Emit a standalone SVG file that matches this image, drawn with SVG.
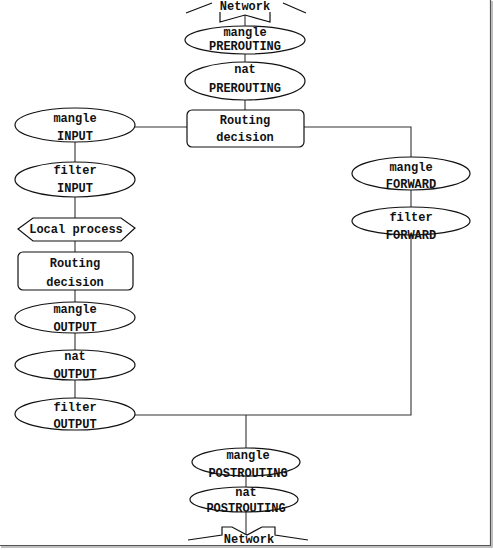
<svg xmlns="http://www.w3.org/2000/svg" width="493" height="550" viewBox="0 0 493 550">
<style>
.n{fill:#fff;stroke:#111;stroke-width:1.2}
.c{fill:none;stroke:#333;stroke-width:1.1}
text{font-family:"Liberation Mono","DejaVu Sans Mono",monospace;font-weight:bold;font-size:12px;fill:#111;text-anchor:middle}
</style>
<rect width="493" height="550" fill="#fff"/>
<g id="connectors">
<path class="c" d="M245,15V26M245,54V62M245,100V110"/>
<path class="c" d="M135,127H187M304,127H411V157M411,190V207M411,235V415H135"/>
<path class="c" d="M75,142V162M75,197V218M75,241V252M75,290V302M75,333V350M75,380V398"/>
<path class="c" d="M246,415V448M246,476V487M246,512V534"/>
</g>
<g id="network-top">
<path class="n" style="fill:none" d="M186,13L212,3M220,12V22L245,15L270,22V12M283,3L306,13"/>
<text x="245" y="10">Network</text>
</g>
<g id="mangle-prerouting">
<ellipse class="n" cx="245" cy="40" rx="60" ry="14"/>
<text x="245" y="36">mangle</text><text x="245" y="50">PREROUTING</text>
</g>
<g id="nat-prerouting">
<ellipse class="n" cx="245" cy="81" rx="60" ry="19"/>
<text x="245" y="73">nat</text><text x="245" y="92">PREROUTING</text>
</g>
<g id="routing-decision-1">
<rect class="n" x="187" y="110" width="117" height="37" rx="5"/>
<text x="245" y="124">Routing</text><text x="245" y="141">decision</text>
</g>
<g id="mangle-input">
<ellipse class="n" cx="75" cy="125" rx="60" ry="17"/>
<text x="75" y="122">mangle</text><text x="75" y="140">INPUT</text>
</g>
<g id="filter-input">
<ellipse class="n" cx="75" cy="179.5" rx="60" ry="17.5"/>
<text x="75" y="174">filter</text><text x="75" y="192">INPUT</text>
</g>
<g id="local-process">
<polygon class="n" points="18,229 33,218 121,218 135,228 121,241 33,241"/>
<text x="76" y="233">Local process</text>
</g>
<g id="routing-decision-2">
<rect class="n" x="18" y="252" width="115" height="38" rx="5"/>
<text x="75" y="267">Routing</text><text x="75" y="286">decision</text>
</g>
<g id="mangle-output">
<ellipse class="n" cx="75" cy="317.5" rx="60" ry="15.5"/>
<text x="75" y="313">mangle</text><text x="75" y="331">OUTPUT</text>
</g>
<g id="nat-output">
<ellipse class="n" cx="75" cy="365" rx="60" ry="15"/>
<text x="75" y="360">nat</text><text x="75" y="378">OUTPUT</text>
</g>
<g id="filter-output">
<ellipse class="n" cx="75" cy="414" rx="60" ry="16"/>
<text x="75" y="411">filter</text><text x="75" y="428">OUTPUT</text>
</g>
<g id="mangle-forward">
<ellipse class="n" cx="411" cy="173.5" rx="59" ry="16.5"/>
<text x="411" y="171">mangle</text><text x="411" y="188">FORWARD</text>
</g>
<g id="filter-forward">
<ellipse class="n" cx="411" cy="221" rx="59" ry="14"/>
<text x="411" y="221">filter</text><text x="411" y="239">FORWARD</text>
</g>
<g id="mangle-postrouting">
<ellipse class="n" cx="246" cy="462" rx="54" ry="14"/>
<text x="248" y="459">mangle</text><text x="248" y="477">POSTROUTING</text>
</g>
<g id="nat-postrouting">
<ellipse class="n" cx="244" cy="499.5" rx="54" ry="12.5"/>
<text x="246" y="496">nat</text><text x="246" y="512">POSTROUTING</text>
</g>
<g id="network-bottom">
<path class="n" style="fill:none" d="M188,540L222,535V527H232L247,535L262,527H275V535L308,540"/>
<text x="249" y="543">Network</text>
</g>
<g id="frame">
<path d="M490.5,0V545.5H0" fill="none" stroke="#555" stroke-width="1.2"/>
<path d="M492,1V547H1" fill="none" stroke="#aaa" stroke-width="1.5"/>
</g>
</svg>
